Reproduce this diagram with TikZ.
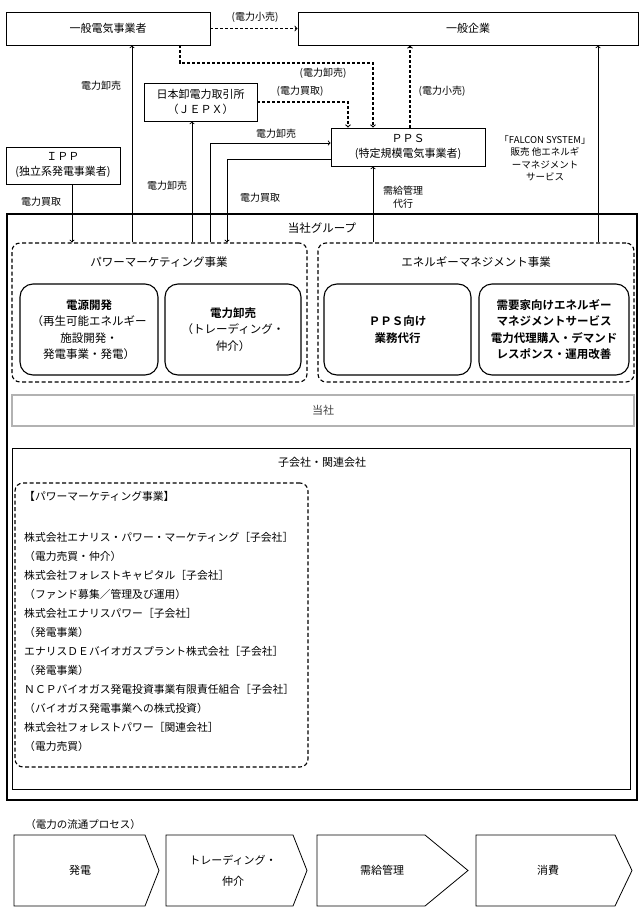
\documentclass[tikz,border=0pt]{standalone}
\usepackage{fontspec}
\setmainfont{Noto Sans CJK JP}[BoldFont={Noto Sans CJK JP Bold}]
\usetikzlibrary{arrows}
\newcommand{\fsz}[2]{\fontsize{#1}{#2}\selectfont}
\tikzset{
  box/.style = {draw, inner sep=0pt, align=center, line width=0.8pt,
    font=\fsz{11}{15}},% acteurs externes
  grp/.style = {draw, dash pattern=on 4pt off 2.5pt, line width=1.1pt,
    rounded corners=8pt, inner sep=0pt},% groupe d'activite
  unit/.style = {draw, rounded corners=13pt, line width=1.1pt, inner sep=0pt,
    align=center, font=\fsz{11.5}{16.5}},% activite
  lbl/.style = {inner sep=1pt, align=center, font=\fsz{10}{12.5}},
  wire/.style = {line width=0.9pt},
  dwire/.style = {line width=1.1pt, dash pattern=on 3pt off 2pt}% flux indirect
}

\begin{document}
\begin{tikzpicture}[x=1pt, y=-1pt, >=to]
		\useasboundingbox (0,0) rectangle (644,913);
		% colonnes et lignes des liaisons
		\coordinate (cIpp) at (72,0);
		\coordinate (cGd) at (132,0);
		\coordinate (cDa) at (180,0);
		\coordinate (cJx) at (192,0);
		\coordinate (cSell) at (210,0);
		\coordinate (cBuy) at (227,0);
		\coordinate (cJd) at (348,0);
		\coordinate (cPps) at (373,0);
		\coordinate (cRet) at (410,0);
		\coordinate (cFal) at (598,0);
		\coordinate (rowD) at (0,63);
		\coordinate (rowS) at (0,143);
		\coordinate (rowB) at (0,159);
		% acteurs externes
		\node [box, minimum width=204pt, minimum height=33pt] (genden) at (108,28.5) {一般電気事業者};
		\node [box, minimum width=340pt, minimum height=33pt] (kigyo) at (468,28.5) {一般企業};
		\node [box, minimum width=113pt, minimum height=38pt] (jepx) at (200.5,102) {日本卸電力取引所\\（ＪＥＰＸ）};
		\node [box, minimum width=154pt, minimum height=38pt] (pps) at (408,147) {ＰＰＳ\\(特定規模電気事業者)};
		\node [box, minimum width=114pt, minimum height=37pt] (ipp) at (63,165.5) {ＩＰＰ\\(独立系発電事業者)};
		%当社グループ
		\node [draw, line width=1.3pt, inner sep=0pt, minimum width=630pt, minimum height=586pt] (group) at (322,507) {};
		\node [lbl, font=\fsz{11.5}{14}] (grouptitle) at (322,228) {当社グループ};
		\node [grp, minimum width=295pt, minimum height=139pt] (pmgrp) at (159.5,312.5) {};
		\node [grp, minimum width=316pt, minimum height=139pt] (emgrp) at (476,312.5) {};
		\node [lbl, font=\fsz{11.5}{14}] (pmtitle) at (159,262) {パワーマーケティング事業};
		\node [lbl, font=\fsz{11.5}{14}] (emtitle) at (476,262) {エネルギーマネジメント事業};
		\node [unit, minimum width=138pt, minimum height=91pt] (dengen) at (89,329.5)
			{\textbf{電源開発}\\（再生可能エネルギー\\施設開発・\\発電事業・発電）};
		\node [unit, minimum width=136pt, minimum height=91pt] (oroshi) at (233,329.5)
			{\textbf{電力卸売}\\（トレーディング・\\仲介）};
		\node [unit, minimum width=147pt, minimum height=91pt] (ppsgyomu) at (397.5,329.5)
			{\textbf{ＰＰＳ向け}\\\textbf{業務代行}};
		\node [unit, minimum width=150pt, minimum height=91pt] (juyoka) at (554,329.5)
			{\textbf{需要家向けエネルギー}\\\textbf{マネジメントサービス}\\\textbf{電力代理購入・デマンド}\\\textbf{レスポンス・運用改善}};
		\node [draw=gray!60, line width=1.6pt, inner sep=0pt, minimum width=622pt, minimum height=31pt,
			text=black!75, font=\fsz{11}{14}] (tosha) at (323,410.5) {当社};
		% 子会社・関連会社
		\node [draw, line width=1pt, inner sep=0pt, minimum width=618pt, minimum height=341pt] (kogaisha) at (321,618.5) {};
		\node [lbl, font=\fsz{11}{14}] (kotitle) at (322,462) {子会社・関連会社};
		\node [grp, minimum width=293pt, minimum height=284pt] (kolist) at (161.5,625) {};
		\node [anchor=north west, inner sep=0pt, align=left, font=\fsz{10.8}{19}] (kotext) at (24,491)
			{【パワーマーケティング事業】\\[22pt]
			株式会社エナリス・パワー・マーケティング［子会社］\\
			（電力売買・仲介）\\
			株式会社フォレストキャピタル［子会社］\\
			（ファンド募集／管理及び運用）\\
			株式会社エナリスパワー［子会社］\\
			（発電事業）\\
			エナリスＤＥバイオガスプラント株式会社［子会社］\\
			（発電事業）\\
			ＮＣＰバイオガス発電投資事業有限責任組合［子会社］\\
			（バイオガス発電事業への株式投資）\\
			株式会社フォレストパワー［関連会社］\\
			（電力売買）};
		% flux d'energie
		\draw [dwire,->] (genden.east) -- (kigyo.west);
		\draw [dwire,->] (genden.south -| cDa) -- (cDa |- rowD) -- (cPps |- rowD) -- (pps.north -| cPps);
		\draw [dwire,->] (jepx.east) -- (cJd |- jepx.east) -- (pps.north -| cJd);
		\draw [dwire,->] (pps.north -| cRet) -- (kigyo.south -| cRet);
		\draw [wire,->] (ipp.south -| cIpp) -- (pmgrp.north -| cIpp);
		\draw [wire,->] (pmgrp.north -| cGd) -- (genden.south -| cGd);
		\draw [wire,->] (pmgrp.north -| cJx) -- (jepx.south -| cJx);
		\draw [wire,->] (pmgrp.north -| cSell) -- (cSell |- rowS) -- (pps.west |- rowS);
		\draw [wire,->] (pps.west |- rowB) -- (cBuy |- rowB) -- (pmgrp.north -| cBuy);
		\draw [wire,->] (emgrp.north -| cPps) -- (pps.south -| cPps);
		\draw [wire,->] (emgrp.north -| cFal) -- (kigyo.south -| cFal);
		% etiquettes
		\node [lbl] (l1) at (255,17) {(電力小売)};
		\node [lbl] (l2) at (101,86) {電力卸売};
		\node [lbl] (l3) at (323,73) {(電力卸売)};
		\node [lbl] (l4) at (300,91) {(電力買取)};
		\node [lbl] (l5) at (442,91) {(電力小売)};
		\node [lbl] (l6) at (276,134) {電力卸売};
		\node [lbl] (l7) at (167,186) {電力卸売};
		\node [lbl] (l8) at (260,198) {電力買取};
		\node [lbl] (l9) at (41,202) {電力買取};
		\node [lbl] (l10) at (403,197) {需給管理\\代行};
		\node [lbl, font=\fsz{9.5}{12.5}] (falcon) at (545,158)
			{「FALCON SYSTEM」\\販売 他エネルギ\\ーマネジメント\\サービス};
		% 電力の流通プロセス
		\node [lbl, font=\fsz{10.5}{12}] (flowtitle) at (83,824) {（電力の流通プロセス）};
		\foreach \l/\r/\t/\c/\txt [count=\i] in {14/145/159/80/発電,
				166/293/307/233/{トレーディング・\\仲介}, 317/425/468/382/需給管理,
				476/615/632/548/消費}
		{
			\draw [line width=0.8pt] (\l,835) -- (\r,835) -- (\t,870.5) -- (\r,906) -- (\l,906) -- cycle;
			\node [lbl, font=\fsz{11}{21}] (flow\i) at (\c,870.5) {\txt};
		}
\end{tikzpicture}
\end{document}
